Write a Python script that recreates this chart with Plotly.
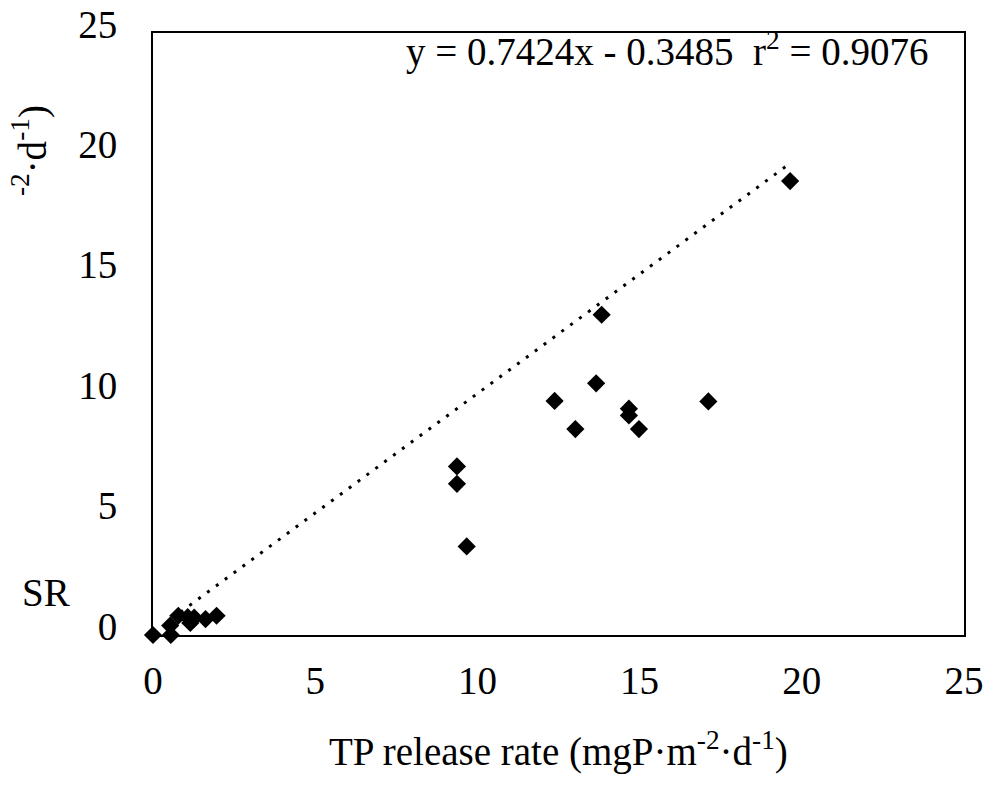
import plotly.graph_objects as go

# Data
tp_rate = [0.0, 0.53, 0.55, 0.78, 1.07, 1.15, 1.27, 1.62, 1.96,
           9.37, 9.37, 9.67, 12.38, 13.02, 13.66, 13.83, 14.67, 14.67, 14.98, 17.12, 19.64]
srp_rate = [0.0, 0.39, 0.0, 0.80, 0.74, 0.50, 0.72, 0.66, 0.80,
            7.0, 6.28, 3.68, 9.72, 8.55, 10.45, 13.3, 9.4, 9.12, 8.55, 9.7, 18.85]

trend_x = [0.85, 19.55]
trend_y = [0.95, 19.5]

x_ticks = [0, 5, 10, 15, 20, 25]
y_ticks = [0, 5, 10, 15, 20, 25]

equation_text = "y = 0.7424x - 0.3485  r<sup>2</sup> = 0.9076"
x_title = "TP release rate (mgP·m<sup>-2</sup>·d<sup>-1</sup>)"

FONT = "Liberation Serif, Times New Roman, serif"
FS = 39

fig = go.Figure()
fig.add_trace(go.Scatter(
    x=trend_x, y=trend_y, mode="lines",
    line=dict(color="black", width=3, dash="3px,8px"),
    showlegend=False, hoverinfo="skip"))
fig.add_trace(go.Scatter(
    x=tp_rate, y=srp_rate, mode="markers",
    marker=dict(symbol="diamond", size=14, color="black"),
    cliponaxis=False, showlegend=False))

axis_common = dict(
    range=[0, 25], showgrid=False, zeroline=False, automargin=False,
    showline=True, linecolor="black", linewidth=2, mirror=True,
    ticks="", tickfont=dict(family=FONT, size=FS, color="black"),
)
fig.update_xaxes(tickvals=x_ticks, ticklabelstandoff=10, **axis_common)
fig.update_yaxes(tickvals=y_ticks, ticklabelstandoff=26, ticklabelshift=-9, **axis_common)

fig.add_annotation(text=equation_text, xref="paper", yref="paper",
                   x=0.958, y=0.972, xanchor="right", yanchor="middle",
                   showarrow=False, font=dict(family=FONT, size=FS, color="black"))
fig.add_annotation(text=x_title, xref="paper", yref="paper",
                   x=0.5, y=-0.19, xanchor="center", yanchor="middle",
                   showarrow=False, font=dict(family=FONT, size=FS, color="black"))
# partially visible y-axis title fragments
fig.add_annotation(text="SR", xref="paper", yref="paper",
                   x=-0.132, y=0.071, xanchor="center", yanchor="middle",
                   showarrow=False, font=dict(family=FONT, size=FS, color="black"))
fig.add_annotation(text="<sup>-2</sup>·d<sup>-1</sup>)", xref="paper", yref="paper",
                   x=-0.152, y=0.805, xanchor="center", yanchor="middle", textangle=-90,
                   showarrow=False, font=dict(family=FONT, size=FS, color="black"))

fig.update_layout(
    width=993, height=788,
    margin=dict(l=153, r=29, t=33, b=153),
    plot_bgcolor="white", paper_bgcolor="white",
    font=dict(family=FONT, color="black"),
)

fig.write_html("out.html")
